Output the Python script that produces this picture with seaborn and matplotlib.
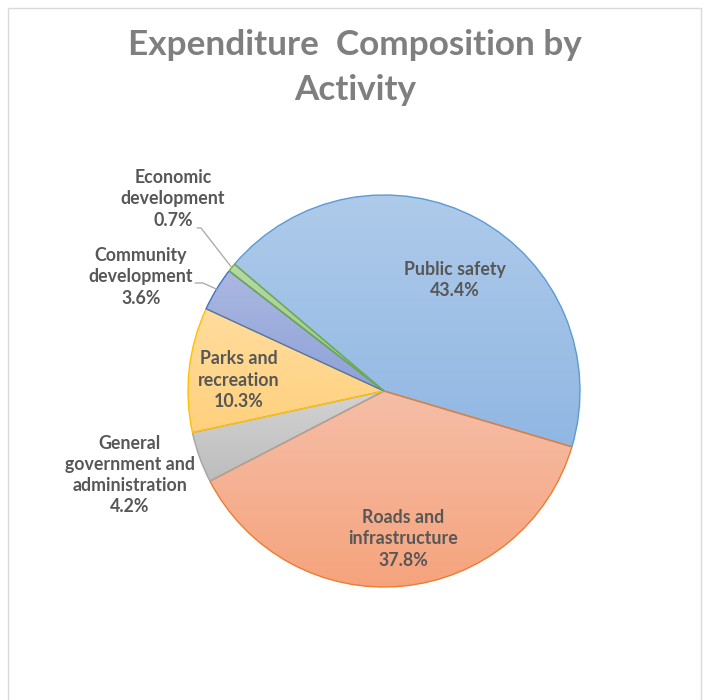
import numpy as np
import matplotlib
matplotlib.use("Agg")
import matplotlib.pyplot as plt
from matplotlib.colors import to_rgb
from matplotlib.patches import Rectangle
import seaborn as sns

# Expenditure share by activity (percent)
activities = ["Public safety", "Roads and\ninfrastructure", "General\ngovernment and\nadministration",
              "Parks and\nrecreation", "Community\ndevelopment", "Economic\ndevelopment"]
shares = [43.4, 37.8, 4.2, 10.3, 3.6, 0.7]

# Gradient fills (top, bottom) and outline colour of each slice
fill_top = ["#AFCBEA", "#F6BEA7", "#D3D3D3", "#FFDC9D", "#ABB8E1", "#B7D9A2"]
fill_bottom = ["#90B7E3", "#F5A37C", "#BDBDBD", "#FFD17D", "#8EA1D8", "#9ACA7E"]
outline = ["#5B9BD5", "#ED7D31", "#A5A5A5", "#FFC000", "#4472C4", "#70AD47"]

sns.set_theme(style="white")
plt.rcParams["font.family"] = ["Lato", "DejaVu Sans"]

fig = plt.figure(figsize=(7.05, 7.0), dpi=100)
fig.patch.set_facecolor("white")
ax = fig.add_axes([188 / 705, (700 - 391 - 196) / 700, 392 / 705, 392 / 700])
ax.set_aspect("equal")
ax.axis("off")

start = 139.7
wedges, _ = ax.pie(shares, startangle=start, counterclock=False, radius=1.0,
                   colors=fill_top, wedgeprops=dict(linewidth=0))
ax.set_xlim(-1, 1)
ax.set_ylim(-1, 1)

# vertical gradient inside each slice
for w, c0, c1 in zip(wedges, fill_top, fill_bottom):
    v = w.get_path().vertices
    x0, x1 = v[:, 0].min(), v[:, 0].max()
    y0, y1 = v[:, 1].min(), v[:, 1].max()
    t = np.linspace(0, 1, 256)[:, None]
    grad = (1 - t) * np.array(to_rgb(c0)) + t * np.array(to_rgb(c1))
    im = ax.imshow(grad[:, None, :], extent=(x0, x1, y0, y1), origin="upper",
                   aspect="auto", interpolation="bilinear", zorder=2)
    im.set_clip_path(w)

# slice outlines on top
edge_wedges, _ = ax.pie(shares, startangle=start, counterclock=False, radius=1.0,
                        colors=["none"] * len(shares),
                        wedgeprops=dict(linewidth=1.0, fill=False))
for w, ec in zip(edge_wedges, outline):
    w.set_edgecolor(ec)
    w.set_zorder(3)
ax.set_xlim(-1, 1)
ax.set_ylim(-1, 1)
ax.set_aspect("equal")

label_color = "#575757"
label_pos = [(0.362, 0.566), (0.097, -0.755), (-1.296, -0.429),
             (-0.740, 0.056), (-1.240, 0.582), (-1.077, 0.980)]
for name, val, (lx, ly) in zip(activities, shares, label_pos):
    ax.text(lx, ly, f"{name}\n{val:.1f}%", ha="center", va="center",
            fontsize=12.8, fontweight="bold", color=label_color,
            linespacing=1.3, zorder=5, clip_on=False)

# leader lines for the two thin slices
theta = np.cumsum([0] + shares)
for idx, (hx0, hx1, hy) in [(5, (-0.954, -0.934, 0.832)), (4, (-0.964, -0.923, 0.551))]:
    mid = np.deg2rad(start - 3.6 * (theta[idx] + shares[idx] / 2))
    ex, ey = np.cos(mid), np.sin(mid)
    ax.plot([hx0, hx1, ex], [hy, hy, ey], color="#A6A6A6", lw=0.9,
            zorder=4, clip_on=False)

fig.text(0.5035, 1 - 45 / 700, "Expenditure  Composition by", ha="center", va="center",
         fontsize=25.3, fontweight="bold", color="#7F7F7F")
fig.text(0.5035, 1 - 90 / 700, "Activity", ha="center", va="center",
         fontsize=25.3, fontweight="bold", color="#7F7F7F")

fig.add_artist(Rectangle((8 / 705, -0.05), (701 - 8) / 705, 1.05 - 8 / 700,
                         transform=fig.transFigure, fill=False,
                         edgecolor="#D9D9D9", linewidth=1.0))

fig.savefig("out.png", dpi=100, facecolor="white")
